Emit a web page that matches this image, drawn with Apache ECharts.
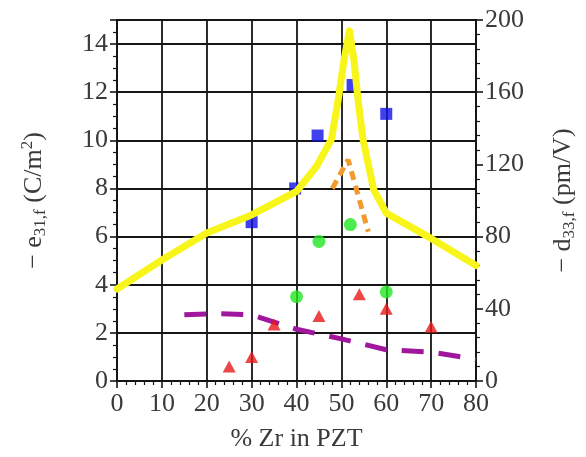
<!DOCTYPE html>
<html><head><meta charset="utf-8">
<script src="https://cdn.jsdelivr.net/npm/echarts@6/dist/echarts.min.js"></script>
<style>html,body{margin:0;padding:0;background:#fff}#c{width:586px;height:457px}</style>
</head><body><div id="c"></div>
<script>
// x positions (% Zr in PZT)
const xTicks = [0,10,20,30,40,50,60,70,80];
const leftTicks = [0,2,4,6,8,10,12,14];
const rightTicks = [0,40,80,120,160,200];

// yellow line: -d33,f (pm/V), right axis
const yellowZr  = [0,10,20,30,40,44.5,47.8,49.3,50.6,51.8,52.8,53.7,54.8,57.2,60,70,80];
const yellowD33 = [51,67,82,92,105,119,134,156,178,194,178,156,134,106,93,79,64];

// blue squares: -e31,f (C/m2)
const blueZr  = [30,39.7,44.7,52.5,60];
const blueE31 = [6.6,8.0,10.2,12.3,11.1];

// green circles
const greenZr  = [40,45,52,60];
const greenE31 = [3.5,5.8,6.5,3.7];

// red triangles
const redZr  = [25,30,35,45,54,60,70];
const redE31 = [0.6,1.0,2.35,2.7,3.6,3.0,2.25];

// purple dashed line
const purpleZr  = [15,22,30,35,40,50,60,70,80];
const purpleE31 = [2.75,2.8,2.75,2.45,2.15,1.75,1.3,1.2,0.9];

// orange dashed line
const orangeZr  = [48,51.5,56];
const orangeE31 = [8.0,9.2,6.2];

const pairs = (xs, ys) => xs.map((x, i) => [x, ys[i]]);
const FONT = 'Liberation Serif';
const TXT = '#3a3a3a';
const GRIDC = '#151515';

const rich = {
  n: {fontFamily: FONT, fontSize: 26, color: TXT, lineHeight: 30},
  s: {fontFamily: FONT, fontSize: 17, color: TXT, lineHeight: 12, verticalAlign: 'bottom'},
  p: {fontFamily: FONT, fontSize: 17, color: TXT, lineHeight: 12, verticalAlign: 'top'}
};

const chart = echarts.init(document.getElementById('c'), null, {renderer: 'canvas'});
chart.setOption({
  animation: false,
  backgroundColor: '#fff',
  grid: {left: 117, right: 104, top: 20, bottom: 75, show: true, borderColor: GRIDC, borderWidth: 2, backgroundColor: 'transparent'},
  xAxis: {
    type: 'value', min: xTicks[0], max: xTicks[xTicks.length - 1], interval: 10,
    name: '% Zr in PZT', nameLocation: 'middle', nameGap: 45,
    nameTextStyle: {fontFamily: FONT, fontSize: 26, color: TXT},
    axisLine: {show: true, onZero: false, lineStyle: {color: GRIDC, width: 2}},
    axisTick: {show: true, inside: false, length: 7, lineStyle: {color: GRIDC, width: 1.6}},
    minorTick: {show: true, splitNumber: 5, length: 4, lineStyle: {color: GRIDC, width: 1.2}},
    axisLabel: {fontFamily: FONT, fontSize: 26, color: TXT, margin: 10,
      formatter: v => xTicks.includes(v) ? String(v) : ''},
    splitLine: {show: true, lineStyle: {color: GRIDC, width: 1.8}}
  },
  yAxis: [{
    type: 'value', min: 0, max: 15, interval: 2, position: 'left',
    name: '{n|− e}{s|31,f}{n| (C/m}{p|2}{n|)}', nameLocation: 'middle', nameGap: 68,
    nameTextStyle: {rich: rich, fontFamily: FONT, fontSize: 26, color: TXT},
    axisLine: {show: true, onZero: false, lineStyle: {color: GRIDC, width: 2}},
    axisTick: {show: true, inside: false, length: 7, lineStyle: {color: GRIDC, width: 1.6}},
    minorTick: {show: true, splitNumber: 4, length: 4, lineStyle: {color: GRIDC, width: 1.2}},
    axisLabel: {fontFamily: FONT, fontSize: 26, color: TXT, margin: 9,
      formatter: v => leftTicks.includes(v) ? String(v) : ''},
    splitLine: {show: true, lineStyle: {color: GRIDC, width: 1.8}}
  }, {
    type: 'value', min: 0, max: 200, interval: 40, position: 'right',
    name: '{n|− d}{s|33,f}{n| (pm/V)}', nameLocation: 'middle', nameGap: 72, nameRotate: 90,
    nameTextStyle: {rich: rich, fontFamily: FONT, fontSize: 26, color: TXT},
    axisLine: {show: true, onZero: false, lineStyle: {color: GRIDC, width: 2}},
    axisTick: {show: true, inside: false, length: 7, lineStyle: {color: GRIDC, width: 1.6}},
    minorTick: {show: true, splitNumber: 5, length: 4, lineStyle: {color: GRIDC, width: 1.2}},
    axisLabel: {fontFamily: FONT, fontSize: 26, color: TXT, margin: 9,
      formatter: v => rightTicks.includes(v) ? String(v) : ''},
    splitLine: {show: false}
  }],
  series: [
    {type: 'scatter', yAxisIndex: 0, data: pairs(blueZr, blueE31), symbol: 'rect', symbolSize: 12,
      itemStyle: {color: '#1010e8'}, z: 2},
    {type: 'line', yAxisIndex: 1, data: pairs(yellowZr, yellowD33), showSymbol: false, symbol: 'none',
      lineStyle: {color: '#f8f51a', width: 7, cap: 'round', join: 'round'}, z: 3},
    {type: 'line', yAxisIndex: 0, data: pairs(orangeZr, orangeE31), showSymbol: false, symbol: 'none',
      lineStyle: {color: '#f29a2e', width: 5, type: [9, 6]}, z: 4},
    {type: 'line', yAxisIndex: 0, data: pairs(purpleZr, purpleE31), showSymbol: false, symbol: 'none',
      lineStyle: {color: '#a0169c', width: 5, type: [22, 15]}, z: 4},
    {type: 'scatter', yAxisIndex: 0, data: pairs(greenZr, greenE31), symbol: 'circle', symbolSize: 13,
      itemStyle: {color: '#22e622'}, z: 5},
    {type: 'scatter', yAxisIndex: 0, data: pairs(redZr, redE31), symbol: 'triangle', symbolSize: [13, 12],
      itemStyle: {color: '#e81818'}, z: 6}
  ]
});
</script></body></html>
